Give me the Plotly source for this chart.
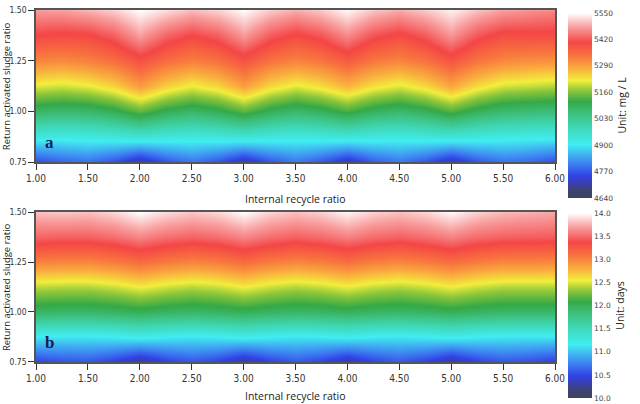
import plotly.graph_objects as go
import numpy as np

# grid of the two contour maps
recycle = [1.00, 1.25, 1.50, 1.75, 2.00, 2.25, 2.50, 2.75, 3.00, 3.25, 3.50,
           3.75, 4.00, 4.25, 4.50, 4.75, 5.00, 5.25, 5.50, 5.75, 6.00]
ras = [0.75, 0.875, 1.00, 1.125, 1.25, 1.375, 1.50]

# (a) MLSS, mg/L - one list per internal recycle ratio, bottom -> top
mlss_cols = [
    [4758, 4922, 5081, 5209, 5318, 5404, 5477],
    [4780, 4918, 5072, 5200, 5312, 5396, 5480],
    [4795, 4922, 5077, 5213, 5323, 5400, 5495],
    [4763, 4928, 5099, 5242, 5345, 5428, 5515],
    [4704, 4940, 5141, 5295, 5386, 5482, 5550],
    [4765, 4930, 5100, 5245, 5348, 5432, 5525],
    [4798, 4924, 5079, 5215, 5325, 5405, 5500],
    [4766, 4929, 5098, 5240, 5343, 5427, 5518],
    [4708, 4938, 5138, 5290, 5383, 5478, 5548],
    [4768, 4927, 5096, 5238, 5340, 5425, 5512],
    [4800, 4921, 5075, 5210, 5320, 5398, 5490],
    [4770, 4926, 5092, 5232, 5336, 5420, 5510],
    [4715, 4934, 5125, 5270, 5370, 5465, 5545],
    [4772, 4925, 5090, 5230, 5334, 5418, 5508],
    [4800, 4920, 5074, 5208, 5318, 5396, 5488],
    [4768, 4927, 5094, 5236, 5340, 5424, 5510],
    [4710, 4936, 5133, 5283, 5380, 5474, 5540],
    [4766, 4926, 5093, 5234, 5338, 5420, 5505],
    [4796, 4918, 5070, 5203, 5314, 5392, 5480],
    [4785, 4915, 5064, 5195, 5308, 5395, 5468],
    [4758, 4913, 5059, 5186, 5304, 5395, 5459],
]

# (b) SRT, days
srt_cols = [
    [10.48, 11.14, 11.94, 12.42, 13.00, 13.48, 13.80],
    [10.54, 11.12, 11.92, 12.40, 12.98, 13.46, 13.82],
    [10.56, 11.12, 11.92, 12.40, 12.98, 13.46, 13.80],
    [10.45, 11.15, 11.95, 12.45, 13.03, 13.51, 13.87],
    [10.24, 11.20, 12.00, 12.54, 13.12, 13.60, 14.00],
    [10.45, 11.15, 11.95, 12.46, 13.04, 13.52, 13.88],
    [10.56, 11.12, 11.92, 12.41, 12.99, 13.47, 13.82],
    [10.46, 11.15, 11.95, 12.45, 13.03, 13.51, 13.87],
    [10.25, 11.20, 12.00, 12.54, 13.12, 13.60, 14.00],
    [10.46, 11.15, 11.95, 12.45, 13.03, 13.51, 13.86],
    [10.57, 11.12, 11.92, 12.40, 12.98, 13.46, 13.80],
    [10.47, 11.14, 11.94, 12.44, 13.02, 13.50, 13.85],
    [10.28, 11.18, 11.98, 12.52, 13.10, 13.58, 13.97],
    [10.47, 11.14, 11.94, 12.44, 13.02, 13.50, 13.85],
    [10.57, 11.12, 11.92, 12.40, 12.98, 13.46, 13.80],
    [10.46, 11.15, 11.95, 12.45, 13.03, 13.51, 13.86],
    [10.26, 11.19, 12.00, 12.53, 13.11, 13.59, 13.98],
    [10.46, 11.15, 11.95, 12.45, 13.03, 13.50, 13.85],
    [10.56, 11.12, 11.92, 12.40, 12.98, 13.46, 13.78],
    [10.52, 11.12, 11.92, 12.40, 12.98, 13.45, 13.75],
    [10.45, 11.12, 11.92, 12.40, 12.97, 13.44, 13.72],
]

mlss_ticks = [4640, 4770, 4900, 5030, 5160, 5290, 5420, 5550]
srt_ticks = [10.0, 10.5, 11.0, 11.5, 12.0, 12.5, 13.0, 13.5, 14.0]
x_ticks = [1.0, 1.5, 2.0, 2.5, 3.0, 3.5, 4.0, 4.5, 5.0, 5.5, 6.0]
y_ticks = [0.75, 1.0, 1.25, 1.5]

rainbow = [
    [0.0, "#3f4262"], [0.04, "#3e4470"], [0.075, "#3a3fa8"], [0.12, "#3142e6"],
    [0.2, "#3f8ff2"], [0.29, "#40eef0"], [0.38, "#3fd8b6"], [0.46, "#3dbf7a"],
    [0.52, "#35a947"], [0.58, "#8cc63b"], [0.635, "#f2ee3c"], [0.7, "#f9ac3e"],
    [0.77, "#f8733e"], [0.84, "#f44646"], [0.92, "#f89a9a"], [1.0, "#ffffff"],
]

narrow = "Liberation Sans Narrow, DejaVu Sans Condensed, Arial Narrow, sans-serif"
xtick_font = dict(family=narrow, size=10, color="#333333")
ytick_font = dict(family=narrow, size=8.5, color="#333333")
title_font = dict(family="Open Sans, Noto Sans, sans-serif", size=10.5, color="#222222")
cb_font = dict(family="DejaVu Sans, Verdana, sans-serif", size=7.5, color="#444444")


def colorbar(ticks, fmt, title, ymid):
    return dict(x=0.8875, xanchor="left", thickness=24, thicknessmode="pixels",
                len=0.458, y=ymid, yanchor="middle", outlinewidth=0,
                tickvals=ticks, tickformat=fmt, ticks="", ticklabelposition="outside",
                tickfont=cb_font, xpad=0, ypad=0,
                title=dict(text=title, side="right", font=title_font))


fig = go.Figure()
fig.add_trace(go.Heatmap(
    x=recycle, y=ras, z=np.array(mlss_cols).T, zsmooth="best",
    zmin=4640, zmax=5550, colorscale=rainbow, hoverinfo="x+y+z",
    colorbar=colorbar(mlss_ticks, "d", "Unit: mg / L", 0.739),
    xaxis="x", yaxis="y"))
fig.add_trace(go.Heatmap(
    x=recycle, y=ras, z=np.array(srt_cols).T, zsmooth="best",
    zmin=10, zmax=14, colorscale=rainbow, hoverinfo="x+y+z",
    colorbar=colorbar(srt_ticks, ".1f", "Unit: days", 0.2438),
    xaxis="x2", yaxis="y2"))

ax = dict(showline=True, linecolor="#555555", linewidth=1.5, mirror=True,
          ticks="outside", ticklen=6, tickcolor="#333333", tickwidth=1.2,
          showgrid=False, zeroline=False, automargin=False)
xa = dict(ax, range=[1, 6], tickvals=x_ticks, tickformat=".2f", tickfont=xtick_font)
ya = dict(ax, range=[0.75, 1.5], tickvals=y_ticks, tickformat=".2f", tickfont=ytick_font,
          ticklabelstandoff=0)

fig.update_layout(
    width=640, height=404, margin=dict(l=0, r=0, t=0, b=0, autoexpand=False),
    paper_bgcolor="white", plot_bgcolor="white", showlegend=False,
    xaxis=dict(xa, domain=[0.05625, 0.8672], anchor="y"),
    yaxis=dict(ya, domain=[0.599, 0.975], anchor="x"),
    xaxis2=dict(xa, domain=[0.05625, 0.8672], anchor="y2"),
    yaxis2=dict(ya, domain=[0.104, 0.4752], anchor="x2"),
)

# axis titles and panel letters
for yx, yy in [(0.5074, 0.787), (0.0198, 0.2896)]:
    fig.add_annotation(text="Internal recycle ratio", xref="paper", yref="paper",
                       x=0.4617, y=yx, xanchor="center", yanchor="middle",
                       showarrow=False, font=title_font)
    fig.add_annotation(text="Return activated sludge ratio", xref="paper", yref="paper",
                       x=0.0095, y=yy, xanchor="center", yanchor="middle", textangle=-90,
                       showarrow=False, font=dict(title_font, size=9.5))

for label, yy in [("a", 0.62), ("b", 0.125)]:
    fig.add_annotation(text="<b>%s</b>" % label, xref="paper", yref="paper",
                       x=0.078, y=yy, xanchor="center", yanchor="bottom", showarrow=False,
                       font=dict(family="Liberation Serif, DejaVu Serif, serif", size=17,
                                 color="#1c1c50"))

fig.write_html("out.html", config={"displayModeBar": False},
               post_script="document.body.style.margin='0px';")
